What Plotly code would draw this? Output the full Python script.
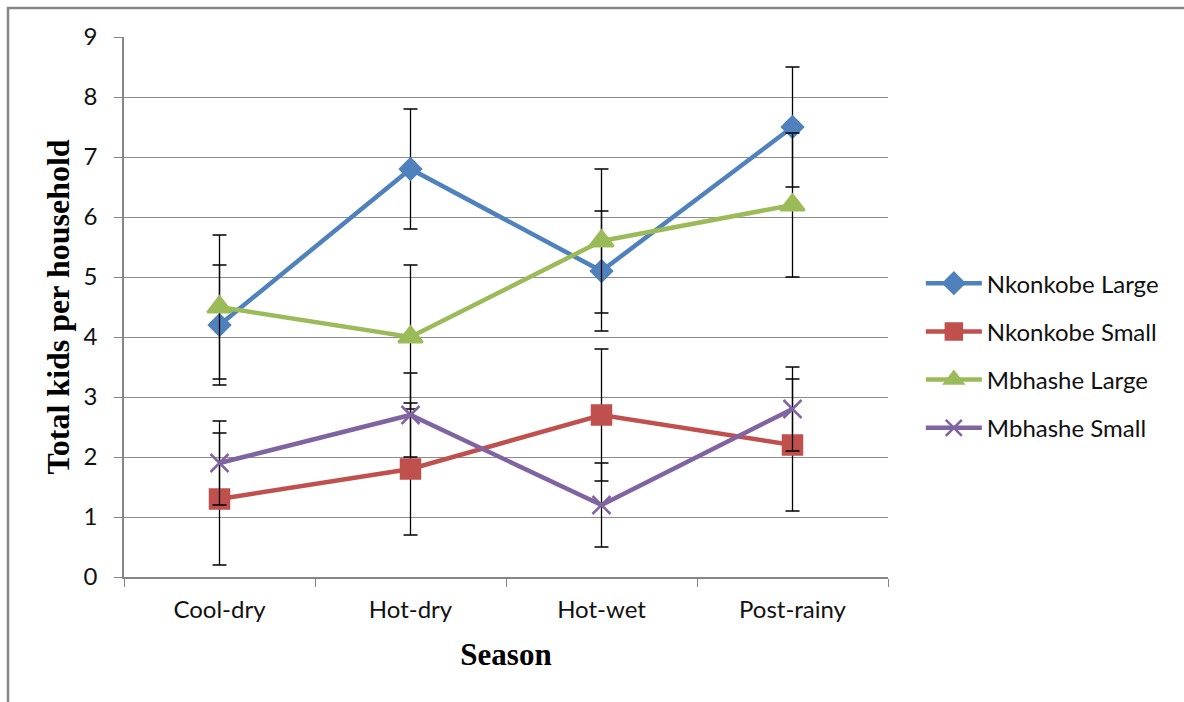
import plotly.graph_objects as go

seasons = ["Cool-dry", "Hot-dry", "Hot-wet", "Post-rainy"]
nk_large = [4.2, 6.8, 5.1, 7.5]
nk_small = [1.3, 1.8, 2.7, 2.2]
mb_large = [4.5, 4.0, 5.6, 6.2]
mb_small = [1.9, 2.7, 1.2, 2.8]
err_nk_large = [1.0, 1.0, 1.0, 1.0]
err_nk_small = [1.1, 1.1, 1.1, 1.1]
err_mb_large = [1.2, 1.2, 1.2, 1.2]
err_mb_small = [0.7, 0.7, 0.7, 0.7]

series = [
    ("Nkonkobe Large", nk_large, err_nk_large, "#4F81BD", "diamond", 16),
    ("Nkonkobe Small", nk_small, err_nk_small, "#C0504D", "square", 19),
    ("Mbhashe Large", mb_large, err_mb_large, "#9BBB59", "triangle-up", 21),
    ("Mbhashe Small", mb_small, err_mb_small, "#8064A2", "x-thin", 18),
]

fig = go.Figure()
for name, vals, err, col, sym, sz in series:
    fig.add_trace(go.Scatter(
        x=seasons, y=vals, name=name, mode="lines+markers",
        legendgroup=name,
        line=dict(color=col, width=4.5),
        marker=dict(symbol=sym, size=sz, color=col,
                    line=dict(color=col, width=2.5)),
        error_y=dict(type="data", array=err, visible=True,
                     color="black", thickness=1.3, width=7),
    ))

FONT = "Lato"
fig.update_layout(
    width=1184, height=702,
    margin=dict(l=124, r=296, t=37, b=125),
    paper_bgcolor="white", plot_bgcolor="white",
    showlegend=True,
    legend=dict(x=1.043, y=0.41, xanchor="left", yanchor="middle",
                font=dict(family=FONT, size=24, color="#111"),
                itemwidth=56,
                tracegroupgap=14, bgcolor="rgba(0,0,0,0)"),
    xaxis=dict(
        type="category", range=[-0.5, 3.5],
        showline=True, linecolor="#868686", linewidth=1.5,
        ticks="outside", tickson="boundaries", ticklen=8, tickcolor="#868686",
        tickfont=dict(family=FONT, size=24, color="#111"),
        ticklabelstandoff=10,
        showgrid=False, zeroline=False,
        title=dict(text="<b>Season</b>", font=dict(family="Liberation Serif", size=31, color="black"), standoff=22),
    ),
    yaxis=dict(
        range=[0, 9], dtick=1,
        showline=True, linecolor="#868686", linewidth=1.5,
        ticks="outside", ticklen=8, tickcolor="#868686",
        showgrid=True, gridcolor="#8c8c8c", gridwidth=1,
        zeroline=False,
        tickfont=dict(family=FONT, size=24, color="#111"),
        ticklabelstandoff=12,
        title=dict(text="<b>Total kids per household</b>", font=dict(family="Liberation Serif", size=32, color="black"), standoff=4),
    ),
    shapes=[dict(type="rect", xref="paper", yref="paper",
                 x0=(8 - 124) / 764, x1=(1195 - 124) / 764,
                 y0=(577 - 712) / 540, y1=(577 - 8) / 540,
                 line=dict(color="#888888", width=2.5), fillcolor="rgba(0,0,0,0)",
                 layer="below")],
)

fig.write_html("out.html")
